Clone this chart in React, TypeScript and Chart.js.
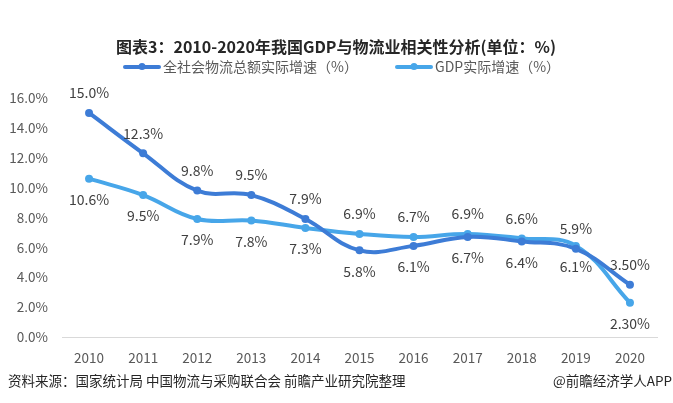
import React, { useEffect, useRef } from "react";
import { Chart, registerables } from "chart.js";

Chart.register(...registerables);

const years = ["2010", "2011", "2012", "2013", "2014", "2015", "2016", "2017", "2018", "2019", "2020"];
const logistics = [15.0, 12.3, 9.8, 9.5, 7.9, 5.8, 6.1, 6.7, 6.4, 5.9, 3.5];
const gdp = [10.6, 9.5, 7.9, 7.8, 7.3, 6.9, 6.7, 6.9, 6.6, 6.1, 2.3];
const logisticsLabels = ["15.0%", "12.3%", "9.8%", "9.5%", "7.9%", "5.8%", "6.1%", "6.7%", "6.4%", "5.9%", "3.50%"];
const gdpLabels = ["10.6%", "9.5%", "7.9%", "7.8%", "7.3%", "6.9%", "6.7%", "6.9%", "6.6%", "6.1%", "2.30%"];
// 1 = above, -1 = below
const logisticsPos = [1, 1, 1, 1, 1, -1, -1, -1, -1, 1, 1];
const gdpPos = [-1, -1, -1, -1, -1, 1, 1, 1, 1, -1, -1];
const yTicks = [0, 2, 4, 6, 8, 10, 12, 14, 16];

const titleText = "图表3：2010-2020年我国GDP与物流业相关性分析(单位：%)";
const sourceText = "资料来源：国家统计局 中国物流与采购联合会 前瞻产业研究院整理";
const brandText = "@前瞻经济学人APP";
const seriesNames = ["全社会物流总额实际增速（%）", "GDP实际增速（%）"];

const DARK = "#3d7cd6";
const LIGHT = "#47a6e9";
const FONT = '"Microsoft YaHei", "Noto Sans CJK SC", sans-serif';

const decorPlugin = {
  id: "decor",
  afterDatasetsDraw(chart: any) {
    const ctx = chart.ctx;
    ctx.save();
    ctx.font = `14px ${FONT}`;
    ctx.fillStyle = "#404040";
    ctx.textAlign = "center";
    ctx.textBaseline = "middle";
    const sets = [
      { labels: logisticsLabels, pos: logisticsPos },
      { labels: gdpLabels, pos: gdpPos },
    ];
    sets.forEach((s, di) => {
      const meta = chart.getDatasetMeta(di);
      meta.data.forEach((pt: any, i: number) => {
        const dy = s.pos[i] > 0 ? -20 : 21;
        ctx.fillText(s.labels[i], pt.x, pt.y + dy);
      });
    });
    ctx.restore();
  },
  afterDraw(chart: any) {
    const ctx = chart.ctx;
    ctx.save();
    ctx.font = `bold 16px ${FONT}`;
    ctx.fillStyle = "#262626";
    ctx.textAlign = "center";
    ctx.textBaseline = "middle";
    ctx.fillText(titleText, 336, 47);
    const items = [
      { x: 125, color: DARK, text: seriesNames[0] },
      { x: 397, color: LIGHT, text: seriesNames[1] },
    ];
    items.forEach((it) => {
      ctx.strokeStyle = it.color;
      ctx.lineWidth = 4;
      ctx.lineCap = "round";
      ctx.beginPath();
      ctx.moveTo(it.x, 67);
      ctx.lineTo(it.x + 34, 67);
      ctx.stroke();
      ctx.fillStyle = it.color;
      ctx.beginPath();
      ctx.arc(it.x + 17, 66.5, 3.5, 0, Math.PI * 2);
      ctx.fill();
      ctx.font = `14px ${FONT}`;
      ctx.fillStyle = "#595959";
      ctx.textAlign = "left";
      ctx.textBaseline = "middle";
      ctx.fillText(it.text, it.x + 38, 67);
    });
    ctx.font = `13.5px ${FONT}`;
    ctx.fillStyle = "#262626";
    ctx.textAlign = "left";
    ctx.fillText(sourceText, 8, 381);
    ctx.textAlign = "right";
    ctx.fillText(brandText, 672, 381);
    ctx.restore();
  },
};

export default function App() {
  const ref = useRef<HTMLCanvasElement>(null);
  useEffect(() => {
    document.body.style.margin = "0";
    document.body.style.background = "#ffffff";
    const chart = new Chart(ref.current as HTMLCanvasElement, {
      type: "line",
      data: {
        labels: years,
        datasets: [
          {
            label: seriesNames[0],
            data: logistics,
            borderColor: DARK,
            backgroundColor: DARK,
            borderWidth: 4,
            pointRadius: 4,
            pointBackgroundColor: DARK,
            pointBorderColor: DARK,
            pointBorderWidth: 0,
            tension: 0.4,
          },
          {
            label: seriesNames[1],
            data: gdp,
            borderColor: LIGHT,
            backgroundColor: LIGHT,
            borderWidth: 4,
            pointRadius: 4,
            pointBackgroundColor: LIGHT,
            pointBorderColor: LIGHT,
            pointBorderWidth: 0,
            tension: 0.4,
          },
        ],
      },
      options: {
        animation: false,
        responsive: false,
        maintainAspectRatio: false,
        layout: { padding: { left: 0, right: 16, top: 98, bottom: 0 } },
        plugins: {
          legend: { display: false },
          title: { display: false },
          tooltip: { enabled: false },
        },
        scales: {
          x: {
            offset: true,
            grid: { display: false, drawTicks: false },
            border: { display: true, color: "#d9d9d9", width: 1 },
            ticks: {
              color: "#595959",
              font: { family: FONT, size: 13.5 },
              padding: 13,
              maxRotation: 0,
            },
            afterFit: (scale: any) => {
              scale.height = 66;
            },
          },
          y: {
            min: 0,
            max: 16,
            afterBuildTicks: (scale: any) => {
              scale.ticks = yTicks.map((v) => ({ value: v }));
            },
            grid: { display: false, drawTicks: false },
            border: { display: false },
            ticks: {
              color: "#595959",
              font: { family: FONT, size: 13.5 },
              padding: 14,
              callback: (v: any) => Number(v).toFixed(1) + "%",
            },
            afterFit: (scale: any) => {
              scale.width = 62;
            },
          },
        },
      },
      plugins: [decorPlugin],
    });
    return () => chart.destroy();
  }, []);
  return <canvas ref={ref} width={673} height={403} style={{ display: "block" }} />;
}
